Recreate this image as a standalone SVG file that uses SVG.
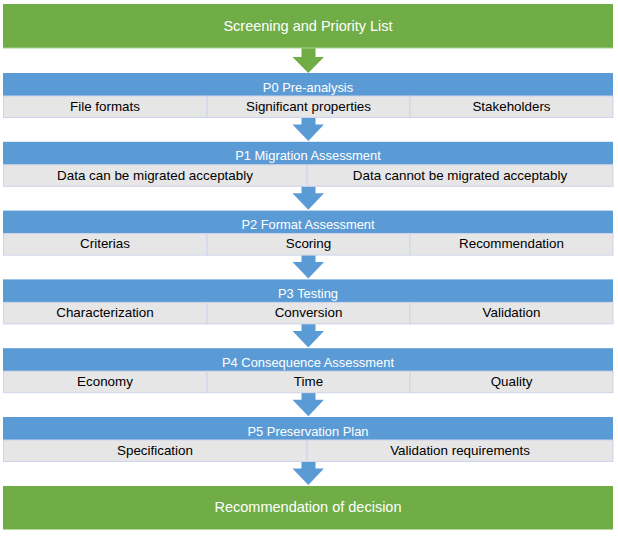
<svg xmlns="http://www.w3.org/2000/svg" width="618" height="536" viewBox="0 0 618 536">
<defs>
<style>
.green{fill:#70ad47}
.blue{fill:#5b9bd5}
.cell{fill:#e7e6e6;stroke:#cdd3ea;stroke-width:1}
.t{font-family:"Liberation Sans",Arial,sans-serif;text-anchor:middle}
.gt{font-size:14.5px;fill:#ffffff}
.bt{font-size:12.9px;fill:#ffffff}
.ct{font-size:13.4px;fill:#000000}
</style>
<path id="arr" d="M301.5,0 H315.5 V7 H324 L308.3,23.5 L292.5,7 H301.5 Z"/>
</defs>
<rect width="618" height="536" fill="#ffffff"/>

<g id="connectors">
<path class="green" d="M301.5,47 H315.5 V57 H324 L308.3,73 L292.5,57 H301.5 Z"/>
<use href="#arr" class="blue" transform="translate(0,117.5)"/>
<use href="#arr" class="blue" transform="translate(0,186.3)"/>
<use href="#arr" class="blue" transform="translate(0,255.1)"/>
<use href="#arr" class="blue" transform="translate(0,323.9)"/>
<use href="#arr" class="blue" transform="translate(0,392.7)"/>
<use href="#arr" class="blue" transform="translate(0,461.5)"/>
</g>

<g id="screening">
<rect class="green" x="3" y="4" width="610" height="44"/>
<rect x="3" y="47.5" width="610" height="1" fill="#a9d18e"/>
<text class="t gt" x="308" y="30.5">Screening and Priority List</text>
</g>

<g id="p0">
<rect class="blue" x="3" y="73" width="610" height="23"/>
<text class="t bt" x="308" y="91.5">P0 Pre-analysis</text>
<rect class="cell" x="3.5" y="96" width="203.5" height="21.5"/>
<rect class="cell" x="207" y="96" width="203" height="21.5"/>
<rect class="cell" x="410" y="96" width="203" height="21.5"/>
<text class="t ct" x="105" y="110.8">File formats</text>
<text class="t ct" x="308.5" y="110.8">Significant properties</text>
<text class="t ct" x="511.5" y="110.8">Stakeholders</text>
</g>

<g id="p1">
<rect class="blue" x="3" y="141.8" width="610" height="23"/>
<text class="t bt" x="308" y="160.3">P1 Migration Assessment</text>
<rect class="cell" x="3.5" y="164.8" width="303.5" height="21.5"/>
<rect class="cell" x="307" y="164.8" width="306" height="21.5"/>
<text class="t ct" x="155" y="179.6">Data can be migrated acceptably</text>
<text class="t ct" x="460" y="179.6">Data cannot be migrated acceptably</text>
</g>

<g id="p2">
<rect class="blue" x="3" y="210.6" width="610" height="23"/>
<text class="t bt" x="308" y="229.1">P2 Format Assessment</text>
<rect class="cell" x="3.5" y="233.6" width="203.5" height="21.5"/>
<rect class="cell" x="207" y="233.6" width="203" height="21.5"/>
<rect class="cell" x="410" y="233.6" width="203" height="21.5"/>
<text class="t ct" x="105" y="248.4">Criterias</text>
<text class="t ct" x="308.5" y="248.4">Scoring</text>
<text class="t ct" x="511.5" y="248.4">Recommendation</text>
</g>

<g id="p3">
<rect class="blue" x="3" y="279.4" width="610" height="23"/>
<text class="t bt" x="308" y="297.9">P3 Testing</text>
<rect class="cell" x="3.5" y="302.4" width="203.5" height="21.5"/>
<rect class="cell" x="207" y="302.4" width="203" height="21.5"/>
<rect class="cell" x="410" y="302.4" width="203" height="21.5"/>
<text class="t ct" x="105" y="317.2">Characterization</text>
<text class="t ct" x="308.5" y="317.2">Conversion</text>
<text class="t ct" x="511.5" y="317.2">Validation</text>
</g>

<g id="p4">
<rect class="blue" x="3" y="348.2" width="610" height="23"/>
<text class="t bt" x="308" y="366.7">P4 Consequence Assessment</text>
<rect class="cell" x="3.5" y="371.2" width="203.5" height="21.5"/>
<rect class="cell" x="207" y="371.2" width="203" height="21.5"/>
<rect class="cell" x="410" y="371.2" width="203" height="21.5"/>
<text class="t ct" x="105" y="386">Economy</text>
<text class="t ct" x="308.5" y="386">Time</text>
<text class="t ct" x="511.5" y="386">Quality</text>
</g>

<g id="p5">
<rect class="blue" x="3" y="417" width="610" height="23"/>
<text class="t bt" x="308" y="435.5">P5 Preservation Plan</text>
<rect class="cell" x="3.5" y="440" width="303.5" height="21.5"/>
<rect class="cell" x="307" y="440" width="306" height="21.5"/>
<text class="t ct" x="155" y="454.8">Specification</text>
<text class="t ct" x="460" y="454.8">Validation requirements</text>
</g>

<g id="decision">
<rect class="green" x="3" y="486" width="610" height="43.5"/>
<text class="t gt" x="308" y="511.5">Recommendation of decision</text>
</g>
</svg>
